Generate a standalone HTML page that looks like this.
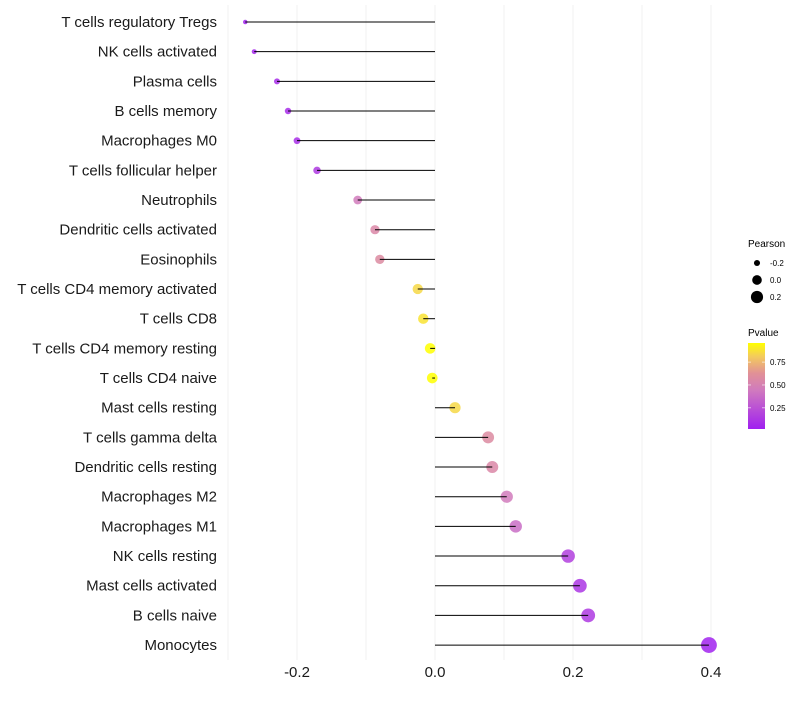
<!DOCTYPE html>
<html><head><meta charset="utf-8"><style>
body{margin:0;background:#fff;font-family:"Liberation Sans",sans-serif}
</style></head><body>
<svg id="chart" width="800" height="700" xmlns="http://www.w3.org/2000/svg"></svg>
<script>
const categories=["T cells regulatory  Tregs","NK cells activated","Plasma cells","B cells memory","Macrophages M0","T cells follicular helper","Neutrophils","Dendritic cells activated","Eosinophils","T cells CD4 memory activated","T cells CD8","T cells CD4 memory resting","T cells CD4 naive","Mast cells resting","T cells gamma delta","Dendritic cells resting","Macrophages M2","Macrophages M1","NK cells resting","Mast cells activated","B cells naive","Monocytes"];
const pearson=[-0.275,-0.262,-0.229,-0.213,-0.200,-0.171,-0.112,-0.087,-0.080,-0.025,-0.017,-0.007,-0.004,0.029,0.077,0.083,0.104,0.117,0.193,0.210,0.222,0.397];
const pvalue=[0.03,0.05,0.08,0.08,0.09,0.14,0.45,0.55,0.58,0.85,0.88,0.96,0.96,0.85,0.58,0.55,0.45,0.38,0.17,0.12,0.14,0.03];
const xTicks=[-0.2,0.0,0.2,0.4];
const xGrid=[-0.3,-0.2,-0.1,0,0.1,0.2,0.3,0.4];
const pLegend=[0.25,0.5,0.75];
const rLegend=[-0.2,0.0,0.2];

const NS="http://www.w3.org/2000/svg";
const svg=document.getElementById('chart');
function el(t,a,p){const e=document.createElementNS(NS,t);for(const k in a)e.setAttribute(k,a[k]);(p||svg).appendChild(e);return e;}
const x=v=>435+v*690;
const y=i=>22+i*29.67;
const pMin=0.017,pMax=0.96;
function lerp(a,b,t){return a.map((v,i)=>Math.round(v+(b[i]-v)*t));}
function color(p){let t=Math.max(0,Math.min(1,(p-pMin)/(pMax-pMin)));
 const stops=[[0,[160,32,240]],[0.45,[208,122,190]],[0.65,[225,145,150]],[0.85,[244,205,90]],[1,[255,255,0]]];
 for(let k=1;k<stops.length;k++){if(t<=stops[k][0]){const a=stops[k-1],b=stops[k];return `rgb(${lerp(a[1],b[1],(t-a[0])/(b[0]-a[0]))})`;}}
 return 'rgb(255,255,0)';}
const rMin=-0.275,rMax=0.397;
const rad=v=>Math.sqrt(5+58*(v-rMin)/(rMax-rMin));

xGrid.forEach(g=>{const l=el('line',{x1:x(g),x2:x(g),y1:5,y2:660,stroke:'#f2f2f2','stroke-width':1});

});

categories.forEach((c,i)=>{
 const t=el('text',{x:217,y:y(i)+5,'text-anchor':'end','font-size':15,fill:'#1a1a1a'});t.textContent=c;
 
 
 const pt=el('circle',{cx:x(pearson[i]),cy:y(i),r:rad(pearson[i]),fill:color(pvalue[i]),'fill-opacity':0.85});
 
 
 const s=el('line',{x1:x(0),x2:x(pearson[i]),y1:y(i),y2:y(i),stroke:'#000','stroke-width':1});
 
 
});
xTicks.forEach(v=>{const t=el('text',{x:x(v),y:677,'text-anchor':'middle','font-size':15,fill:'#1a1a1a'});t.textContent=v.toFixed(1);
 
 });

const lt=el('text',{x:748,y:247,'font-size':10,fill:'#000'});lt.textContent='Pearson';


rLegend.forEach((v,i)=>{const cy=263+i*17;
 const c=el('circle',{cx:757,cy:cy,r:rad(v)*0.9,fill:'#000'});
 
 
 const t=el('text',{x:770,y:cy+3,'font-size':8,fill:'#000'});t.textContent=v.toFixed(1);
 
 });
const pt2=el('text',{x:748,y:336,'font-size':10,fill:'#000'});pt2.textContent='Pvalue';


const defs=el('defs',{});const g=el('linearGradient',{id:'pg',x1:0,y1:1,x2:0,y2:0},defs);
for(let k=0;k<=20;k++){el('stop',{offset:k/20,'stop-color':color(pMin+(pMax-pMin)*k/20)},g);}
const bar=el('rect',{x:748,y:343,width:17,height:86,fill:'url(#pg)'});


pLegend.forEach(v=>{const yy=429-(v-pMin)/(pMax-pMin)*86;
 el('line',{x1:748,x2:751,y1:yy,y2:yy,stroke:'#fff','stroke-opacity':0.6});
 el('line',{x1:762,x2:765,y1:yy,y2:yy,stroke:'#fff','stroke-opacity':0.6});
 const t=el('text',{x:770,y:yy+3,'font-size':8,fill:'#000'});t.textContent=v.toFixed(2);
 
 });
</script>
</body></html>
